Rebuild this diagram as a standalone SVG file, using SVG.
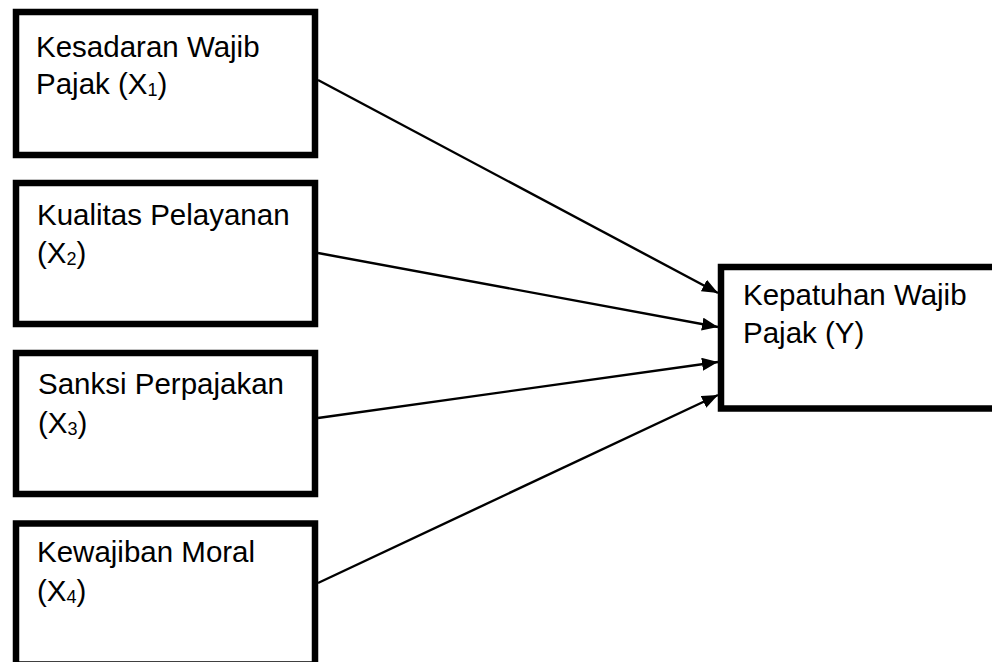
<svg xmlns="http://www.w3.org/2000/svg" width="992" height="662" viewBox="0 0 992 662">
<style>
.box{fill:#fff;stroke:#000;stroke-width:6.5}
.t{font-family:"Liberation Sans",Arial,sans-serif;font-size:29.5px;fill:#000}
.sub{font-size:18px}
.edge{stroke:#000;stroke-width:2.4;fill:none;marker-end:url(#ah)}
</style>
<defs>
<marker id="ah" viewBox="0 0 16 13" refX="16" refY="6.5" markerWidth="16" markerHeight="13" markerUnits="userSpaceOnUse" orient="auto">
<path d="M0,0 L16,6.5 L0,13 z" fill="#000"/>
</marker>
</defs>
<rect width="992" height="662" fill="#fff"/>
<g id="x1">
<rect class="box" x="16" y="12" width="299" height="143"/>
<text class="t" x="36" y="57">Kesadaran Wajib</text>
<text class="t" x="36" y="94">Pajak (X<tspan class="sub" dy="2">1</tspan><tspan dy="-2">)</tspan></text>
</g>
<g id="x2">
<rect class="box" x="16" y="183" width="299" height="141"/>
<text class="t" x="37" y="225">Kualitas Pelayanan</text>
<text class="t" x="37" y="263">(X<tspan class="sub" dy="2">2</tspan><tspan dy="-2">)</tspan></text>
</g>
<g id="x3">
<rect class="box" x="16" y="353" width="299" height="141"/>
<text class="t" x="38" y="394">Sanksi Perpajakan</text>
<text class="t" x="38" y="433">(X<tspan class="sub" dy="2">3</tspan><tspan dy="-2">)</tspan></text>
</g>
<g id="x4">
<rect class="box" x="16" y="523.5" width="299" height="141"/>
<text class="t" x="37" y="562">Kewajiban Moral</text>
<text class="t" x="37" y="601">(X<tspan class="sub" dy="2">4</tspan><tspan dy="-2">)</tspan></text>
</g>
<g id="y">
<rect class="box" x="721" y="267" width="300" height="141.5"/>
<text class="t" x="743" y="305">Kepatuhan Wajib</text>
<text class="t" x="743" y="343">Pajak (Y)</text>
</g>
<g id="connectors">
<line class="edge" x1="318" y1="80" x2="718" y2="293"/>
<line class="edge" x1="318" y1="253" x2="718" y2="327"/>
<line class="edge" x1="318" y1="418" x2="718" y2="362"/>
<line class="edge" x1="318" y1="583" x2="718" y2="395"/>
</g>
</svg>
